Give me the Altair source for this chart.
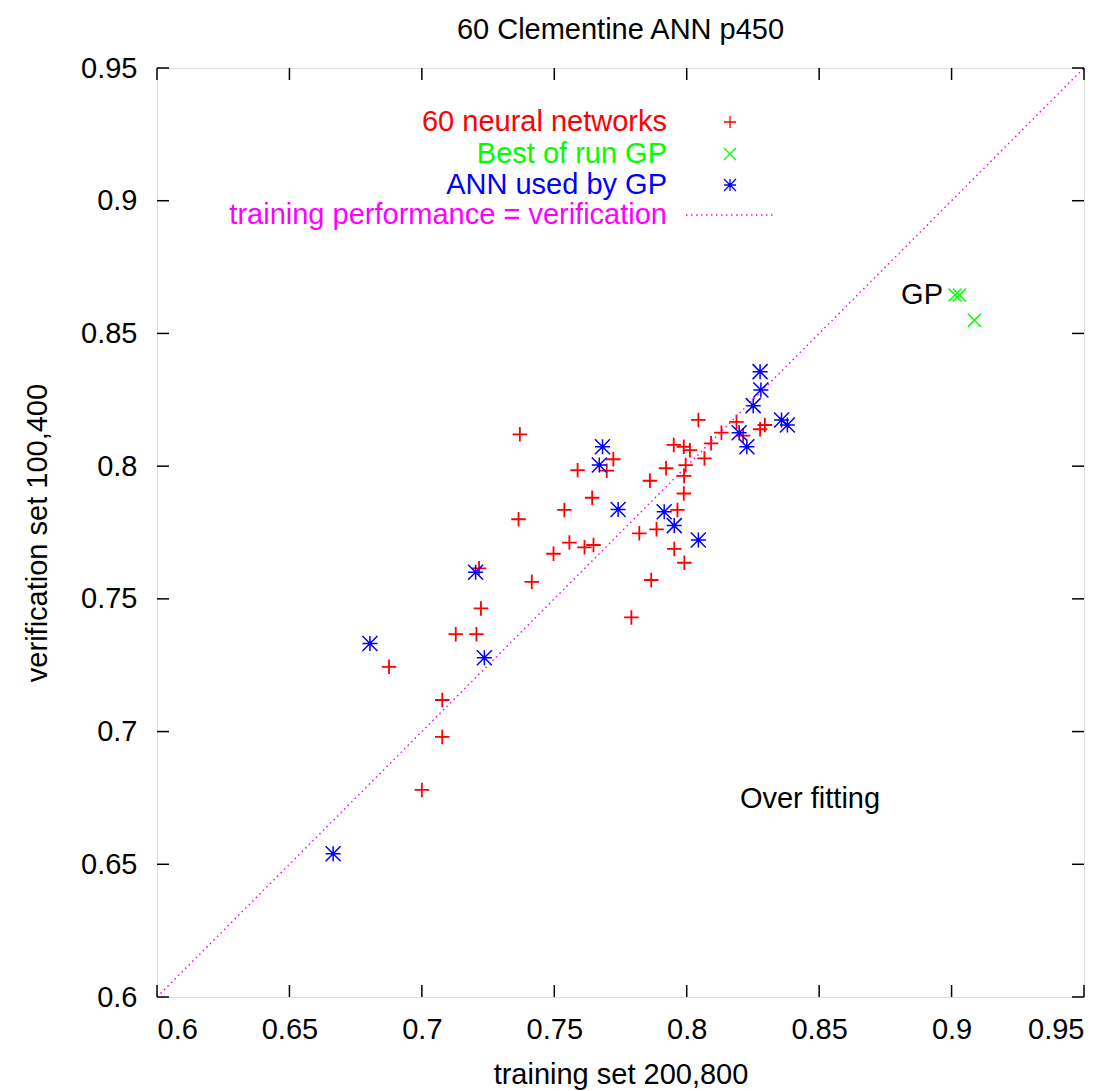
import altair as alt
import pandas as pd

# ---- data ----
red_x = [0.737, 0.7365, 0.7497, 0.7216, 0.7415, 0.7223, 0.7128, 0.7206, 0.6876, 0.7077,
         0.7077, 0.7000, 0.8044, 0.8188, 0.8131, 0.8092, 0.8067, 0.7951, 0.7989, 0.8012,
         0.7996, 0.7990, 0.7989, 0.7922, 0.7861, 0.7965, 0.7886, 0.7821, 0.7953, 0.7991,
         0.7866, 0.7791, 0.7723, 0.7698, 0.7588, 0.7643, 0.7538, 0.7557, 0.7614, 0.7648,
         0.8295, 0.8277, 0.8213]
red_y = [0.812, 0.780, 0.767, 0.7615, 0.7564, 0.7464, 0.7367, 0.7367, 0.7244, 0.7119,
         0.698, 0.678, 0.8174, 0.8167, 0.8126, 0.8086, 0.8029, 0.808, 0.8073, 0.806,
         0.8004, 0.7963, 0.7897, 0.7992, 0.7945, 0.7835, 0.7762, 0.7747, 0.7688, 0.7636,
         0.7571, 0.743, 0.8026, 0.7983, 0.7985, 0.7881, 0.7835, 0.7712, 0.7694, 0.7703,
         0.8155, 0.8139, 0.8115]

blue_x = [0.7203, 0.6804, 0.7236, 0.6665, 0.8198, 0.8227, 0.7915, 0.7953, 0.8044, 0.7682,
          0.7670, 0.7741, 0.8277, 0.8280, 0.8251, 0.8358, 0.8380]
blue_y = [0.760, 0.7332, 0.7278, 0.654, 0.8126, 0.8073, 0.7828, 0.7776, 0.7722, 0.8073,
          0.8004, 0.7837, 0.8356, 0.8287, 0.8228, 0.8174, 0.8155]

green_x = [0.9013, 0.9030, 0.9086]
green_y = [0.8645, 0.8645, 0.855]

diag = [0.6, 0.95]
tick_values = [0.6, 0.65, 0.7, 0.75, 0.8, 0.85, 0.9, 0.95]

legend_labels = ["60 neural networks", "Best of run GP", "ANN used by GP",
                 "training performance = verification"]
legend_colors = ["#ff0000", "#00ff00", "#0000ff", "#ff00ff"]

W, H = 927, 929
FONT = "Liberation Sans"
FS = 29

PLUS = "M-1,0L1,0M0,-1L0,1"
XSYM = "M-1,-1L1,1M-1,1L1,-1"
STAR = "M-1,0L1,0M0,-1L0,1M-1,-1L1,1M-1,1L1,-1"

xs = alt.Scale(domain=[0.6, 0.95], nice=False, zero=False)
ys = alt.Scale(domain=[0.6, 0.95], nice=False, zero=False)

red_df = pd.DataFrame({"x": red_x, "y": red_y})
blue_df = pd.DataFrame({"x": blue_x, "y": blue_y})
green_df = pd.DataFrame({"x": green_x, "y": green_y})
diag_df = pd.DataFrame({"x": diag, "y": diag})
ticks_df = pd.DataFrame({"v": tick_values})

X = alt.X("x:Q", scale=xs, axis=alt.Axis(
    values=tick_values, format="~g", title="training set 200,800",
    ticks=False, domain=False, grid=False, labelFont=FONT, labelFontSize=FS,
    labelColor="black", labelPadding=18, titleFont=FONT, titleFontSize=FS,
    titleFontWeight="normal", titleColor="black", titlePadding=16))
Y = alt.Y("y:Q", scale=ys, axis=alt.Axis(
    values=tick_values, format="~g", title="verification set 100,400",
    ticks=False, domain=False, grid=False, labelFont=FONT, labelFontSize=FS,
    labelColor="black", labelPadding=20, titleFont=FONT, titleFontSize=FS,
    titleFontWeight="normal", titleColor="black", titlePadding=28))

red = alt.Chart(red_df).mark_point(shape=PLUS, size=210, filled=False,
                                   stroke="#ff0000", strokeWidth=1.8, opacity=1).encode(x=X, y=Y)
green = alt.Chart(green_df).mark_point(shape=XSYM, size=169, filled=False,
                                       stroke="#00ff00", strokeWidth=1.5, opacity=1).encode(
    x=alt.X("x:Q", scale=xs), y=alt.Y("y:Q", scale=ys))
blue = alt.Chart(blue_df).mark_point(shape=STAR, size=225, filled=False,
                                     stroke="#0000ff", strokeWidth=1.5, opacity=1).encode(
    x=alt.X("x:Q", scale=xs), y=alt.Y("y:Q", scale=ys))
line = alt.Chart(diag_df).mark_line(color="#ff00ff", strokeWidth=1.5,
                                    strokeDash=[1.5, 3.5]).encode(
    x=alt.X("x:Q", scale=xs), y=alt.Y("y:Q", scale=ys))

# inward ticks on all four sides
tb = alt.Chart(ticks_df).mark_rule(color="black", strokeWidth=1.5).encode(
    x=alt.X("v:Q", scale=xs), y=alt.value(H), y2=alt.value(H - 12))
tt = alt.Chart(ticks_df).mark_rule(color="black", strokeWidth=1.5).encode(
    x=alt.X("v:Q", scale=xs), y=alt.value(0), y2=alt.value(12))
tl = alt.Chart(ticks_df).mark_rule(color="black", strokeWidth=1.5).encode(
    y=alt.Y("v:Q", scale=ys), x=alt.value(0), x2=alt.value(12))
tr = alt.Chart(ticks_df).mark_rule(color="black", strokeWidth=1.5).encode(
    y=alt.Y("v:Q", scale=ys), x=alt.value(W), x2=alt.value(W - 12))

# key (gnuplot-style, top left)
leg_rows = [54, 86, 117, 147]
leg_df = pd.DataFrame({"label": legend_labels, "color": legend_colors, "row": leg_rows})
leg_text = alt.Chart(leg_df).mark_text(align="right", baseline="middle", font=FONT,
                                       fontSize=FS).encode(
    x=alt.value(510), y=alt.Y("row:Q", scale=None), text="label:N",
    color=alt.Color("color:N", scale=None))
leg_plus = alt.Chart(leg_df.iloc[[0]]).mark_point(shape=PLUS, size=144, filled=False,
                                                  stroke="#ff0000", strokeWidth=1.3, opacity=1).encode(
    x=alt.value(573), y=alt.Y("row:Q", scale=None))
leg_x = alt.Chart(leg_df.iloc[[1]]).mark_point(shape=XSYM, size=144, filled=False,
                                               stroke="#00ff00", strokeWidth=1.3, opacity=1).encode(
    x=alt.value(573), y=alt.Y("row:Q", scale=None))
leg_star = alt.Chart(leg_df.iloc[[2]]).mark_point(shape=STAR, size=144, filled=False,
                                                  stroke="#0000ff", strokeWidth=1.3, opacity=1).encode(
    x=alt.value(573), y=alt.Y("row:Q", scale=None))
leg_line = alt.Chart(leg_df.iloc[[3]]).mark_rule(color="#ff00ff", strokeWidth=1.5,
                                                 strokeDash=[1.5, 3.5]).encode(
    x=alt.value(529), x2=alt.value(616), y=alt.Y("row:Q", scale=None))

notes_df = pd.DataFrame({"t": ["GP"], "px": [786], "py": [227]})
gp_text = alt.Chart(notes_df).mark_text(align="right", baseline="middle", font=FONT,
                                        fontSize=FS, color="black").encode(
    x=alt.X("px:Q", scale=None), y=alt.Y("py:Q", scale=None), text="t:N")
of_df = pd.DataFrame({"t": ["Over fitting"], "px": [653], "py": [731]})
of_text = alt.Chart(of_df).mark_text(align="center", baseline="middle", font=FONT,
                                     fontSize=FS, color="black").encode(
    x=alt.X("px:Q", scale=None), y=alt.Y("py:Q", scale=None), text="t:N")

chart = alt.layer(
    red, green, blue, line, tb, tt, tl, tr,
    leg_text, leg_plus, leg_x, leg_star, leg_line, gp_text, of_text
).properties(
    width=W, height=H,
    title=alt.TitleParams("60 Clementine ANN p450", font=FONT, fontSize=FS,
                          fontWeight="normal", color="black", offset=9, anchor="middle"),
    autosize=alt.AutoSizeParams(type="none"),
    padding={"left": 157, "top": 68, "right": 35, "bottom": 94},
).configure_view(
    stroke="black", strokeWidth=2
).configure(background="white")

chart.save("out.html", embed_options={"renderer": "svg", "actions": False})
